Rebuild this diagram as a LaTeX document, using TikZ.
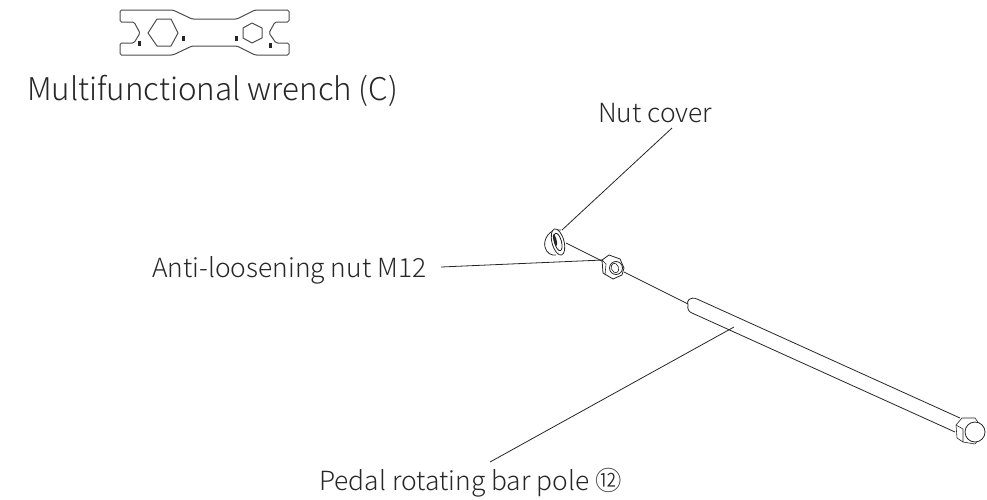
\documentclass[tikz,border=0pt]{standalone}
\usepackage{fontspec}
\setmainfont{Noto Sans CJK SC Light}
\usepackage{tikz}
\tikzset{
    part/.style={line width=0.8pt, line join=round, black!85},
    thinpart/.style={line width=0.6pt, line join=round, black!85},
    toolpart/.style={line width=1pt, line join=round, black!70},
    leader/.style={line width=0.8pt, black!85},
    label/.style={inner sep=0pt, font=\fontsize{26.4pt}{30pt}\selectfont, text=black!85},
    biglabel/.style={inner sep=0pt, font=\fontsize{31.3pt}{36pt}\selectfont, text=black!85}
}
\begin{document}
\begin{tikzpicture}[x=1pt, y=-1pt]
\useasboundingbox (0, 0) rectangle (987, 499);

% wrench
\draw[toolpart, rounded corners=1.5pt] (120, 10) -- (173, 10) -- (192, 19) -- (237, 19)
    -- (255, 10) -- (289, 10) -- (289, 22) -- (275, 22) -- (269, 33) -- (276, 43)
    -- (289, 43) -- (289, 55) -- (255, 55) -- (237, 46) -- (192, 46) -- (173, 55)
    -- (120, 55) -- (120, 43) -- (134, 43) -- (140, 33) -- (134, 22) -- (120, 22)
    -- cycle;
\draw[toolpart] (148, 33) -- (157, 19) -- (171, 19) -- (178, 33) -- (171, 46) -- (157, 46) -- cycle;
\draw[toolpart] (252, 23) -- (262, 28) -- (262, 38) -- (252, 43) -- (243, 38) -- (243, 28) -- cycle;
\foreach \tickx/\ticky in {139/43, 183/38, 236/38, 270/45}
    \fill[black!85] (\tickx-1.5, \ticky-2.5) rectangle (\tickx+1.5, \ticky+2.5);

\node[biglabel, anchor=base west] (wrenchlabel) at (27, 100) {Multifunctional wrench (C)};

% bar pole
\coordinate (rodstart) at (566, 243);
\coordinate (nutin) at (604, 262);
\coordinate (nutout) at (624, 272);
\coordinate (sleevein) at (688, 304);
\draw[part] (rodstart) -- (nutin);
\draw[part] (nutout) -- (sleevein);
\draw[part] (960, 418) -- (697, 299)
    .. controls (690, 296) and (686, 301) .. (688, 305)
    .. controls (687, 309) and (689, 312) .. (692, 313) -- (955, 432);

% bolt head
\draw[thinpart, fill=white] (956, 425) -- (962, 418) -- (975, 418) -- (985, 432)
    -- (975, 444) -- (963, 442) -- (957, 438) -- cycle;
\draw[thinpart] (956, 425) -- (963, 429) -- (963, 442);
\draw[part, fill=white] (975, 432) circle[radius=10];

% nut
\draw[part, fill=white] (609, 255) -- (620, 259) -- (624, 268) -- (622, 275)
    -- (613, 279) -- (603, 273) -- (602, 260) -- cycle;
\draw[thinpart] (602, 260) -- (606, 264) -- (605, 275);
\draw[part] (616, 268) circle[radius=6.5];
\draw[thinpart] (615, 268) ellipse[x radius=3.5, y radius=5, rotate=20];

% nut cover
\draw[part, fill=white] (561, 230) .. controls (549, 228) and (543, 240) .. (545, 247)
    .. controls (546, 253) and (552, 256) .. (556, 255);
\draw[part, fill=white] (558, 242) ellipse[x radius=6, y radius=13.5, rotate=15];
\draw[part] (558, 242) ellipse[x radius=3.5, y radius=9, rotate=15];
\fill[black!85] (555, 240) ellipse[x radius=1.5, y radius=6, rotate=15];

% labels
\node[label, anchor=base west] (coverlabel) at (598, 122) {Nut cover};
\node[label, anchor=base west] (nutlabel) at (152, 277) {Anti-loosening nut M12};
\node[label, anchor=base west] (barlabel) at (319, 490) {Pedal rotating bar pole ⑫};

\coordinate (coverend) at (562, 230);
\coordinate (coverstart) at (672, 128);
\coordinate (nutstart) at (441, 267);
\coordinate (nutend) at (603, 260);
\coordinate (barstart) at (490, 462);
\coordinate (barend) at (734, 327);
\draw[leader] (coverstart) -- (coverend);
\draw[leader] (nutstart) -- (nutend);
\draw[leader] (barstart) -- (barend);
\end{tikzpicture}
\end{document}
